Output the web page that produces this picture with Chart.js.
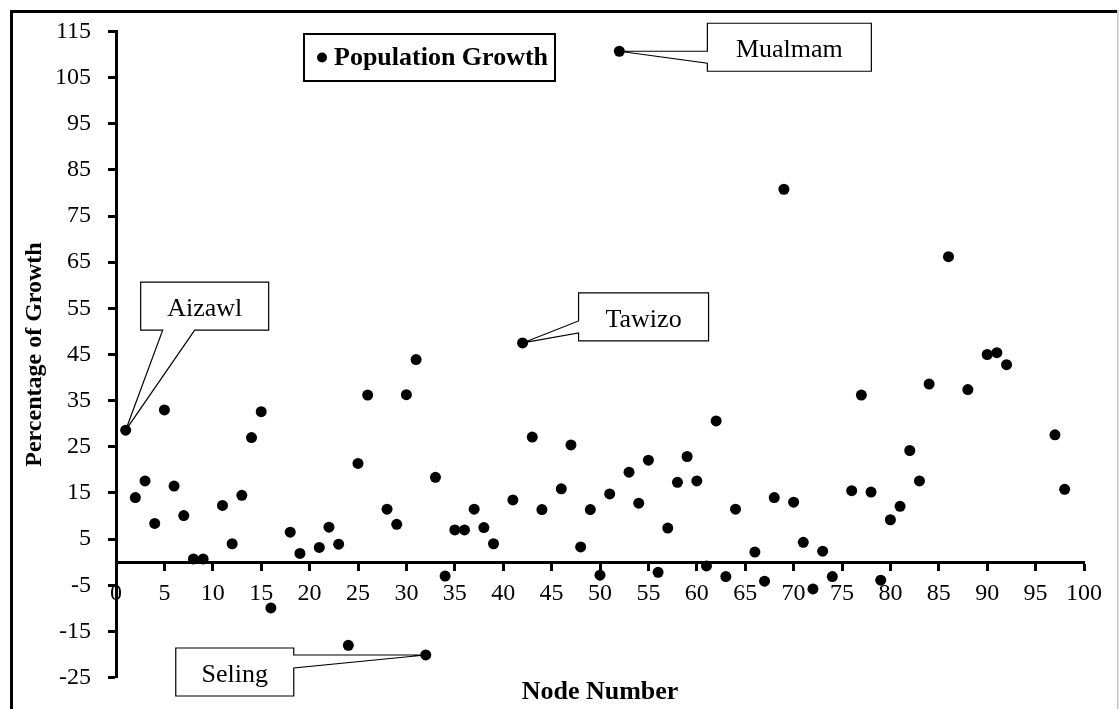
<!DOCTYPE html>
<html>
<head>
<meta charset="utf-8">
<title>Population Growth</title>
<script src="https://cdn.jsdelivr.net/npm/chart.js@4.4.0/dist/chart.umd.min.js"></script>
<style>
  body { margin: 0; background: #fff; }
  #wrap { width: 1119px; height: 709px; }
</style>
</head>
<body>
<div id="wrap"><canvas id="growthChart" width="1119" height="709"></canvas></div>
<script>
// node numbers that have a value (gaps are missing nodes)
const nodes = [1, 2, 3, 4, 5, 6, 7, 8, 9, 11, 12, 13, 14, 15, 16, 18, 19, 21, 22, 23, 24, 25, 26,
  28, 29, 30, 31, 32, 33, 34, 35, 36, 37, 38, 39, 41, 42, 43, 44, 46, 47, 48, 49, 50, 51, 52, 53,
  54, 55, 56, 57, 58, 59, 60, 61, 62, 63, 64, 66, 67, 68, 69, 70, 71, 72, 73, 74, 76, 77, 78, 79,
  80, 81, 82, 83, 84, 86, 88, 90, 91, 92, 97, 98];

// percentage of growth per node
const growth = [28.6, 14.0, 17.6, 8.4, 33.0, 16.5, 10.1, 0.7, 0.7, 12.3, 4.0, 14.5, 27.0, 32.6, -9.9,
  6.5, 1.9, 3.2, 7.6, 3.9, -18.0, 21.4, 36.2, 11.5, 8.2, 36.3, 43.9, -20.1, 18.4, -3.0, 7.0, 7.0,
  11.5, 7.5, 4.0, 13.5, 47.5, 27.1, 11.4, 15.9, 25.4, 3.3, 11.4, -2.8, 14.8, 110.7, 19.5, 12.8,
  22.1, -2.2, 7.4, 17.3, 22.9, 17.6, -0.8, 30.6, -3.1, 11.5, 2.2, -4.1, 14.0, 80.8, 13.0, 4.3,
  -5.8, 2.4, -3.1, 15.5, 36.2, 15.2, -3.9, 9.2, 12.1, 24.2, 17.6, 38.6, 66.2, 37.4, 45.0, 45.4,
  42.8, 27.6, 15.8];

const xTicks = [0, 5, 10, 15, 20, 25, 30, 35, 40, 45, 50, 55, 60, 65, 70, 75, 80, 85, 90, 95, 100];
const yTicks = [-25, -15, -5, 5, 15, 25, 35, 45, 55, 65, 75, 85, 95, 105, 115];

const calloutNames = ["Aizawl", "Tawizo", "Mualmam", "Seling"];
const calloutNodes = [1, 42, 52, 32];

// callout box shape, offsets in px from the labelled point
const calloutShapes = {
  Aizawl:  { dx: 15,   dy: -148, w: 128, h: 48, side: "bottom", a: 22, b: 54 },
  Tawizo:  { dx: 56,   dy: -50,  w: 130, h: 48, side: "left",   a: 28, b: 40 },
  Mualmam: { dx: 88,   dy: -28,  w: 164, h: 48, side: "left",   a: 28, b: 40 },
  Seling:  { dx: -250, dy: -7,   w: 118, h: 48, side: "right",  a: 7,  b: 20 }
};

const serif = "'Liberation Serif', 'Times New Roman', serif";
Chart.defaults.font.family = serif;
Chart.defaults.color = "#000";

const extras = {
  id: "extras",
  beforeDatasetsDraw(chart) {
    const ctx = chart.ctx;
    const xs = chart.scales.x;
    const ys = chart.scales.y;
    ctx.save();
    calloutNames.forEach((name, i) => {
      const idx = nodes.indexOf(calloutNodes[i]);
      const px = xs.getPixelForValue(nodes[idx]);
      const py = ys.getPixelForValue(growth[idx]);
      const s = calloutShapes[name];
      const L = px + s.dx, T = py + s.dy, R = L + s.w, B = T + s.h;

      ctx.beginPath();
      if (s.side === "bottom") {
        ctx.moveTo(L, T); ctx.lineTo(R, T); ctx.lineTo(R, B);
        ctx.lineTo(L + s.b, B); ctx.lineTo(px, py); ctx.lineTo(L + s.a, B);
        ctx.lineTo(L, B);
      } else if (s.side === "left") {
        ctx.moveTo(L, T); ctx.lineTo(R, T); ctx.lineTo(R, B); ctx.lineTo(L, B);
        ctx.lineTo(L, T + s.b); ctx.lineTo(px, py); ctx.lineTo(L, T + s.a);
      } else {
        ctx.moveTo(L, T); ctx.lineTo(R, T); ctx.lineTo(R, T + s.a); ctx.lineTo(px, py);
        ctx.lineTo(R, T + s.b); ctx.lineTo(R, B); ctx.lineTo(L, B);
      }
      ctx.closePath();
      ctx.fillStyle = "#fff";
      ctx.fill();
      ctx.lineWidth = 1.2;
      ctx.strokeStyle = "#000";
      ctx.stroke();

      ctx.fillStyle = "#000";
      ctx.font = "26px " + serif;
      ctx.textAlign = "center";
      ctx.textBaseline = "alphabetic";
      ctx.fillText(name, (L + R) / 2, (T + B) / 2 + 10);
    });
    ctx.restore();
  },
  afterDraw(chart) {
    const ctx = chart.ctx;
    ctx.save();
    // outer frame (top + left dark, right thin grey)
    ctx.fillStyle = "#000";
    ctx.fillRect(10, 10, 3, 699);
    ctx.fillRect(10, 10, 1108, 3);
    ctx.fillStyle = "#c4c4c4";
    ctx.fillRect(1117, 10, 1.5, 699);

    // legend box
    ctx.fillStyle = "#fff";
    ctx.fillRect(304, 34, 251, 47);
    ctx.lineWidth = 2;
    ctx.strokeStyle = "#000";
    ctx.strokeRect(304, 34, 251, 47);
    ctx.fillStyle = "#000";
    ctx.beginPath();
    ctx.arc(322, 57.5, 5, 0, Math.PI * 2);
    ctx.fill();
    ctx.font = "bold 26px " + serif;
    ctx.textAlign = "left";
    ctx.textBaseline = "alphabetic";
    ctx.fillText("Population Growth", 334, 65);
    ctx.restore();
  }
};

new Chart(document.getElementById("growthChart"), {
  type: "scatter",
  data: {
    datasets: [{
      label: "Population Growth",
      data: nodes.map((n, i) => ({ x: n, y: growth[i] })),
      backgroundColor: "#000",
      borderColor: "#000",
      borderWidth: 0,
      pointRadius: 5.5,
      pointHoverRadius: 5.5
    }]
  },
  options: {
    responsive: false,
    animation: false,
    layout: { padding: { left: 12, top: 28, right: 35, bottom: 0 } },
    plugins: {
      legend: { display: false },
      tooltip: { enabled: false },
      title: {
        display: true,
        position: "bottom",
        fullSize: false,
        text: "Node Number",
        color: "#000",
        font: { size: 26, weight: "bold", lineHeight: 1 },
        padding: { top: 2, bottom: 1.5 }
      }
    },
    scales: {
      x: {
        type: "linear",
        position: { y: 0 },
        min: 0,
        max: 100,
        afterBuildTicks: s => { s.ticks = xTicks.map(v => ({ value: v })); },
        grid: { display: true, drawOnChartArea: false, drawTicks: true, tickLength: 7, tickWidth: 3, tickColor: "#000" },
        border: { display: true, color: "#000", width: 3 },
        ticks: { color: "#000", font: { size: 24 }, padding: 10, autoSkip: false, maxRotation: 0 }
      },
      y: {
        type: "linear",
        position: "left",
        min: -25,
        max: 115,
        afterBuildTicks: s => { s.ticks = yTicks.map(v => ({ value: v })); },
        afterFit: s => { s.width = 104; },
        grid: { display: true, drawOnChartArea: false, drawTicks: true, tickLength: 8, tickWidth: 3, tickColor: "#000" },
        border: { display: true, color: "#000", width: 3 },
        ticks: { color: "#000", font: { size: 24 }, padding: 17 },
        title: {
          display: true,
          text: "Percentage of Growth",
          color: "#000",
          font: { size: 24, weight: "bold" },
          padding: { top: 8, bottom: 0 }
        }
      }
    }
  },
  plugins: [extras]
});
</script>
</body>
</html>
